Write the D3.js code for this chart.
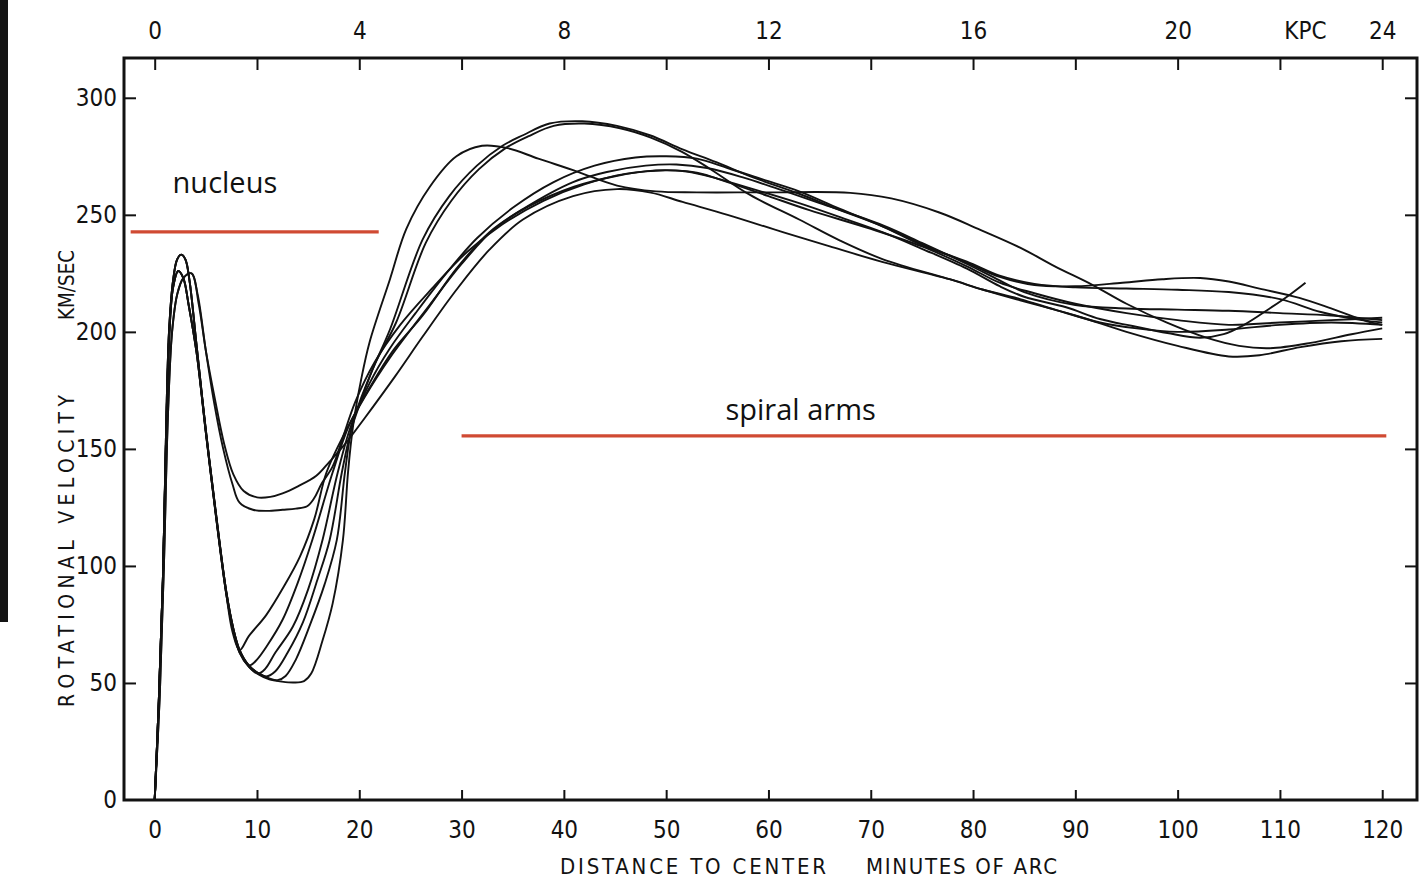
<!DOCTYPE html>
<html>
<head>
<meta charset="utf-8">
<script src="https://cdn.jsdelivr.net/npm/d3@7/dist/d3.min.js"></script>
<style>
  html, body { margin: 0; padding: 0; background: #fff; }
  svg { display: block; }
</style>
</head>
<body>
<svg id="chart" width="1424" height="885"></svg>
<script>
// ---- axis ticks ----
const arcminTicks = [10, 20, 30, 40, 50, 60, 70, 80, 90, 100, 110, 120];
const arcminLabels = [0, 10, 20, 30, 40, 50, 60, 70, 80, 90, 100, 110, 120];
const velocityTicks = [0, 50, 100, 150, 200, 250, 300];
const kpcTicks = [0, 2, 4, 6, 8, 10, 12, 14, 16, 18, 20, 22, 24];
const kpcLabels = [0, 4, 8, 12, 16, 20, 24];
const kpcUnit = { text: "KPC", at: 22.5 };

// ---- rotation curves: [distance (minutes of arc), velocity (km/s)] ----
const curveP = [[0,0],[0.4,42],[0.8,94],[1.1,152],[1.4,196],[1.8,219],[2.3,226],[2.8,223],[3.3,212],[4.1,191],[5.0,157],[6.0,121],[7.0,88],[7.7,72],[8.3,63],[9.2,57],[10.2,53.5],[11.2,51.5],[12.4,50.6],[13.6,50.2],[14.6,50.8],[15.3,54],[16.4,68],[17.4,84],[18.4,111],[18.9,140],[19.4,160],[20.2,180],[21,195.5],[23,222.5],[24.6,244],[26.9,262],[29.5,275],[32,279.5],[34.5,278.5],[37.5,274],[41.3,268.5],[45.2,262.5],[49,260],[53,259.6],[60,259.6],[68,259.4],[72,257],[76.7,251],[80.5,244],[84.6,236],[88,228],[91.7,220],[95,212],[98.9,204],[102.8,197.5],[106,194],[109,193],[113,195.3],[117,199],[120,201.5]];

const curveH1 = [[0,0],[0.4,42],[0.8,94],[1.1,155],[1.4,200],[1.8,222],[2.2,231],[2.6,233],[3.0,231],[3.4,222],[4.1,194],[5.0,158],[6.0,122],[7.0,89],[7.7,73],[8.3,64],[9.2,57.5],[10.2,54],[11.2,52],[12.0,51.2],[12.8,53],[13.8,60],[15.2,75],[16.6,92],[17.8,111],[18.6,140],[19.3,160],[20.2,172],[21.5,186],[23,201],[26.2,239.5],[28.8,258],[31.5,271],[34,279.5],[36,284],[38.6,289],[41.8,290],[45.2,288],[48.4,284],[51.6,278],[54.9,272.5],[58.5,266],[63,259],[67,252],[71.2,245],[75,237.5],[79.4,229.5],[82.6,223.5],[86,220],[90,219.5],[94.6,221],[98.5,222.5],[102.2,223],[105,221.5],[108,218.5],[111.9,214.5],[115,210],[118.5,204.5],[120,203]];

const curveH2 = [[0,0],[0.4,42],[0.8,94],[1.1,155],[1.4,200],[1.8,222],[2.2,231],[2.6,233],[3.0,231],[3.4,222],[4.1,194],[5.0,158],[6.0,122],[7.0,89],[7.7,73],[8.3,64],[9.2,57.5],[10.2,54],[10.9,52.8],[11.8,55],[13,63],[14.5,76],[15.9,94],[17.1,111],[18.3,140],[19.2,158],[20.2,171],[21.5,186],[23.6,204],[26.5,238],[29,256],[31.7,269.5],[34.3,278.5],[36.5,283.5],[39,288],[42,289],[45.5,287],[48.5,283],[51.5,277],[54.3,269.6],[58.2,258.5],[63,248],[67,239],[71.2,231],[77.7,222.5],[81,218],[84.6,213.5],[90,207],[95,200],[100,194],[105,189.5],[108,190],[112,193.5],[116,196],[120,197]];

const curveM1 = [[0,0],[0.4,42],[0.8,94],[1.1,152],[1.4,196],[1.8,219],[2.3,226],[2.8,223],[3.3,212],[4.1,191],[5.0,157],[6.0,121],[7.0,88],[7.7,72],[8.3,63],[9.2,57],[10.1,54],[10.8,56],[11.8,63],[13.5,74],[15,90],[16.4,111],[17.9,140],[19.2,160],[21,178],[23,193],[25.5,208],[28.5,225],[31.5,240],[35,253],[39,264],[43,271],[47,274.5],[50,275],[53,274],[56,270],[59.5,265],[63,260],[67,252.5],[71.2,245],[75,237],[79.4,230],[82.6,224],[86,220.5],[90,219],[95,218.5],[100,218],[105,217],[110,214],[114,208.5],[118,205],[120,204]];

const curveM2 = [[0,0],[0.4,42],[0.8,94],[1.1,155],[1.4,200],[1.8,222],[2.2,231],[2.6,233],[3.0,231],[3.4,222],[4.1,194],[5.0,158],[6.0,122],[7.0,89],[7.7,73],[8.3,64],[8.9,59],[9.3,57.5],[10,60],[11,66],[12.5,77],[14,93],[15.4,111],[17.4,140],[19,160],[21,176],[23.3,192],[26.2,207],[29.5,227],[32.7,242.5],[36,252.5],[40.9,264],[44.2,268.3],[48,271],[51,271.5],[54,270],[57.5,266],[61,261],[65,255],[71.2,245.5],[75,238],[79.4,229],[82.6,222],[85,217],[90,211.5],[95,210],[100,209.5],[105,209],[110,208],[115,207],[120,205]];

const curveM3 = [[0,0],[0.4,42],[0.8,94],[1.1,152],[1.4,196],[1.8,219],[2.3,226],[2.8,223],[3.3,212],[4.1,191],[5.0,157],[6.0,121],[7.0,88],[7.6,72],[8.3,64],[9.2,70],[10.9,79],[12.6,91],[14.2,104],[15.6,120],[16.8,140],[18.6,157],[20.5,172],[23,189],[26.8,211],[30,229],[33.2,244],[36.5,253.5],[41,262],[45,266.5],[49,269],[52,268.5],[55,265.5],[58.5,261],[63,255],[67,249],[71.2,242.5],[75,235.5],[79.4,227],[82.6,219.5],[85,215],[89.1,210.5],[92.4,205.5],[95.6,202.5],[99,199.5],[102.2,197.5],[104.5,199],[106.5,203],[109,210],[111,216],[112.5,221]];

const curveM4 = [[0,0],[0.5,45],[0.9,100],[1.3,165],[1.7,200],[2.2,216],[2.8,223],[3.6,225],[4.2,216],[5.0,192],[5.8,170],[6.7,150],[7.6,135],[8.3,127],[9.6,124],[11,123.5],[12.5,124],[13.8,124.5],[14.9,125.5],[15.6,129],[16.3,135],[17.4,142.5],[18.4,155],[19.6,170],[21.5,187],[24,203],[27,218],[30.5,234],[34,246],[38,256],[42,263],[46,267.5],[50,269],[53,268],[56,264],[60,258],[64,252],[70,244],[75,236.5],[79.4,228],[82.6,221],[86,216.5],[90,212],[95,208],[100,205],[105,203],[110,204],[115,205],[120,206]];

const curveL = [[0,0],[0.5,45],[0.9,100],[1.3,165],[1.7,200],[2.2,216],[2.8,223],[3.6,225],[4.3,212],[5.0,192],[5.9,171],[6.8,152],[7.7,139],[8.7,132],[10,129.3],[11.3,129.5],[12.5,131],[14,134],[15.8,138.5],[17.1,144.6],[18.6,152],[20.5,163],[23.5,181],[26.2,198],[29.5,218],[32.7,235],[36,248],[40.9,258],[45.2,261],[48.5,259.5],[51.6,255.5],[56,250],[61.4,242.6],[66,236.5],[71.2,229.8],[77.7,222.5],[81,218],[84.6,214],[88,209.5],[92.4,204],[96,201.5],[100,200],[105,201],[110,203],[115,204],[120,203]];

const rotationCurves = [curveP, curveH1, curveH2, curveM1, curveM2, curveM3, curveM4, curveL];

// ---- region markers: [start, end] in minutes of arc, level in km/s ----
const regionNames = ["nucleus", "spiral arms"];
const regionSpans = [[-2.35, 21.9], [30.0, 120.4]];
const regionLevels = [242.7, 155.6];

// ---- layout ----
const svg = d3.select("#chart");
const frame = { left: 124, right: 1417, top: 58, bottom: 800 };

const x = d3.scaleLinear().domain([-3, 123.4]).range([frame.left, frame.right]);
const xKpc = d3.scaleLinear().domain([-0.6, 24.68]).range([frame.left, frame.right]);
const y = d3.scaleLinear().domain([0, 317]).range([frame.bottom, frame.top]);

const ink = "#121212";
const tickFont = "'DejaVu Sans Condensed', 'DejaVu Sans', sans-serif";

// dark edge strip on the left margin
svg.append("rect").attr("x", 0).attr("y", 0).attr("width", 8).attr("height", 622).attr("fill", "#141414");

function styleAxis(g) {
  g.select(".domain").remove();
  g.selectAll(".tick line").attr("stroke", ink).attr("stroke-width", 2);
  g.selectAll(".tick text")
    .attr("fill", ink)
    .style("font-family", tickFont)
    .style("font-size", "24px");
}

// bottom axis (minutes of arc)
const gBottom = svg.append("g").attr("transform", `translate(0,${frame.bottom})`)
  .call(d3.axisBottom(x).tickValues(arcminTicks).tickSizeInner(-10).tickSizeOuter(0).tickFormat(""));
styleAxis(gBottom);
const gBottomLabels = svg.append("g").attr("transform", `translate(0,${frame.bottom})`)
  .call(d3.axisBottom(x).tickValues(arcminLabels).tickSize(0).tickPadding(21));
styleAxis(gBottomLabels);

// left axis (velocity)
const gLeft = svg.append("g").attr("transform", `translate(${frame.left},0)`)
  .call(d3.axisLeft(y).tickValues(velocityTicks).tickSizeInner(-12).tickSizeOuter(0).tickPadding(7));
styleAxis(gLeft);
gLeft.selectAll(".tick").filter(d => d === 0).select("line").remove();

// right axis (ticks only)
const gRight = svg.append("g").attr("transform", `translate(${frame.right},0)`)
  .call(d3.axisRight(y).tickValues(velocityTicks.filter(v => v > 0)).tickSizeInner(-12).tickSizeOuter(0).tickFormat(""));
styleAxis(gRight);

// top axis (kiloparsec)
const gTop = svg.append("g").attr("transform", `translate(0,${frame.top})`)
  .call(d3.axisTop(xKpc).tickValues(kpcTicks).tickSizeInner(-12).tickSizeOuter(0).tickFormat(""));
styleAxis(gTop);
const gTopLabels = svg.append("g").attr("transform", `translate(0,${frame.top})`)
  .call(d3.axisTop(xKpc).tickValues(kpcLabels).tickSize(0).tickPadding(19));
styleAxis(gTopLabels);
svg.append("text")
  .attr("x", xKpc(kpcUnit.at)).attr("y", frame.top - 19)
  .attr("text-anchor", "middle")
  .attr("fill", ink)
  .style("font-family", tickFont).style("font-size", "24px")
  .text(kpcUnit.text);

// frame
svg.append("rect")
  .attr("x", frame.left).attr("y", frame.top)
  .attr("width", frame.right - frame.left).attr("height", frame.bottom - frame.top)
  .attr("fill", "none").attr("stroke", ink).attr("stroke-width", 3);

// axis titles
function title(text, len, size, adjust) {
  return svg.append("text")
    .attr("fill", ink)
    .attr("textLength", len).attr("lengthAdjust", adjust)
    .style("font-family", tickFont).style("font-size", size + "px")
    .text(text);
}
title("ROTATIONAL  VELOCITY", 312, 21, "spacing")
  .attr("transform", "translate(74,551) rotate(-90)").attr("text-anchor", "middle");
title("KM/SEC", 70, 21, "spacingAndGlyphs")
  .attr("transform", "translate(74,285) rotate(-90)").attr("text-anchor", "middle");
title("DISTANCE TO CENTER", 266, 22, "spacing").attr("x", 560).attr("y", 874);
title("MINUTES OF ARC", 191, 22, "spacing").attr("x", 866).attr("y", 874);

// rotation curves
const line = d3.line()
  .x(d => x(d[0]))
  .y(d => y(d[1]))
  .curve(d3.curveCatmullRom.alpha(0.5));

svg.append("g")
  .selectAll("path")
  .data(rotationCurves)
  .join("path")
  .attr("d", line)
  .attr("fill", "none")
  .attr("stroke", ink)
  .attr("stroke-width", 1.9)
  .attr("stroke-linejoin", "round");

// region markers
const red = "#d04a33";
regionNames.forEach((name, i) => {
  const [a, b] = regionSpans[i];
  svg.append("line")
    .attr("x1", x(a)).attr("x2", x(b))
    .attr("y1", y(regionLevels[i])).attr("y2", y(regionLevels[i]))
    .attr("stroke", red).attr("stroke-width", 3.2);
});
svg.append("text")
  .attr("x", x(1.75)).attr("y", y(259.5))
  .attr("fill", "#111")
  .style("font-family", "'Open Sans', sans-serif").style("font-size", "29px")
  .text(regionNames[0]);
svg.append("text")
  .attr("x", x(55.8)).attr("y", y(162.5))
  .attr("fill", "#111")
  .style("font-family", "'Open Sans', sans-serif").style("font-size", "29px")
  .text(regionNames[1]);
</script>
</body>
</html>
